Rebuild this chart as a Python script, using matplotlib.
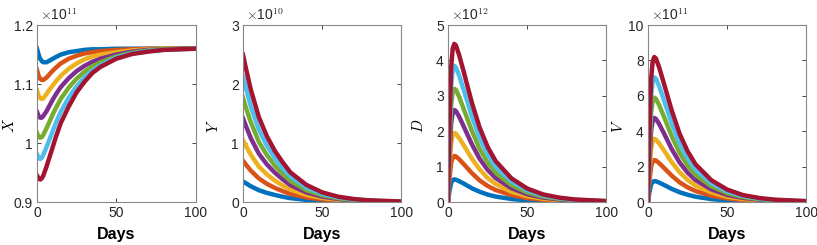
import numpy as np
import matplotlib
matplotlib.use("Agg")
import matplotlib.pyplot as plt

plt.rcParams['font.family'] = ['Liberation Sans Narrow', 'Liberation Sans', 'DejaVu Sans']
plt.rcParams['mathtext.fontset'] = 'cm'

# MATLAB default line colours
colors = ['#0072BD', '#D95319', '#EDB120', '#7E2F8E', '#77AC30', '#4DBEEE', '#A2142F']

# X (x1e11)
days_x = [0, 1, 2, 3, 4, 6, 8, 10, 12, 15, 20, 25, 30, 35, 40, 50, 60, 70, 80, 90, 100]
X = [
    [1.160, 1.150, 1.143, 1.139, 1.137, 1.137, 1.140, 1.143, 1.146, 1.150, 1.154, 1.156, 1.158, 1.159, 1.159, 1.160, 1.160, 1.160, 1.160, 1.160, 1.160],
    [1.124, 1.114, 1.109, 1.107, 1.107, 1.111, 1.117, 1.123, 1.128, 1.135, 1.143, 1.148, 1.152, 1.154, 1.156, 1.158, 1.159, 1.160, 1.160, 1.160, 1.160],
    [1.089, 1.080, 1.076, 1.075, 1.076, 1.083, 1.091, 1.098, 1.105, 1.114, 1.126, 1.135, 1.142, 1.147, 1.150, 1.154, 1.157, 1.159, 1.160, 1.160, 1.160],
    [1.053, 1.046, 1.043, 1.043, 1.046, 1.054, 1.064, 1.074, 1.083, 1.095, 1.110, 1.122, 1.131, 1.138, 1.143, 1.150, 1.155, 1.158, 1.159, 1.160, 1.160],
    [1.017, 1.011, 1.009, 1.010, 1.014, 1.025, 1.037, 1.049, 1.060, 1.075, 1.094, 1.109, 1.121, 1.130, 1.137, 1.147, 1.153, 1.157, 1.159, 1.160, 1.160],
    [0.981, 0.975, 0.973, 0.975, 0.980, 0.993, 1.007, 1.021, 1.035, 1.053, 1.077, 1.096, 1.111, 1.123, 1.132, 1.145, 1.152, 1.156, 1.158, 1.159, 1.160],
    [0.945, 0.940, 0.938, 0.940, 0.945, 0.960, 0.977, 0.994, 1.011, 1.034, 1.062, 1.086, 1.104, 1.119, 1.129, 1.143, 1.151, 1.155, 1.158, 1.159, 1.160],
]

# Y (x1e10)
days_y = [0, 2, 5, 10, 15, 20, 25, 30, 40, 50, 60, 70, 80, 100]
Y = [
    [0.35, 0.315, 0.266, 0.20, 0.155, 0.12, 0.09, 0.065, 0.035, 0.018, 0.009, 0.005, 0.003, 0.001],
    [0.70, 0.63, 0.53, 0.40, 0.31, 0.24, 0.185, 0.137, 0.077, 0.043, 0.024, 0.013, 0.007, 0.002],
    [1.05, 0.945, 0.80, 0.60, 0.47, 0.365, 0.28, 0.21, 0.12, 0.068, 0.038, 0.021, 0.012, 0.003],
    [1.42, 1.28, 1.08, 0.82, 0.64, 0.50, 0.385, 0.285, 0.163, 0.092, 0.051, 0.028, 0.016, 0.004],
    [1.77, 1.59, 1.35, 1.02, 0.80, 0.62, 0.48, 0.355, 0.20, 0.115, 0.064, 0.035, 0.019, 0.005],
    [2.13, 1.92, 1.62, 1.23, 0.96, 0.75, 0.575, 0.43, 0.245, 0.138, 0.077, 0.043, 0.023, 0.006],
    [2.50, 2.25, 1.90, 1.44, 1.12, 0.87, 0.675, 0.50, 0.29, 0.163, 0.09, 0.05, 0.028, 0.008],
]

# D (x1e12) and V (x1e11)
days_dv = [0, 1, 2, 3, 4, 5, 7, 10, 15, 20, 25, 30, 40, 50, 60, 70, 80, 100]
D = [
    [0, 0.32, 0.54, 0.62, 0.64, 0.63, 0.59, 0.52, 0.39, 0.29, 0.21, 0.155, 0.085, 0.047, 0.026, 0.015, 0.008, 0.003],
    [0, 0.65, 1.10, 1.26, 1.30, 1.29, 1.21, 1.07, 0.82, 0.61, 0.455, 0.34, 0.195, 0.11, 0.062, 0.036, 0.021, 0.008],
    [0, 0.98, 1.66, 1.89, 1.95, 1.93, 1.81, 1.60, 1.23, 0.92, 0.68, 0.51, 0.29, 0.166, 0.094, 0.055, 0.031, 0.012],
    [0, 1.30, 2.21, 2.52, 2.60, 2.57, 2.42, 2.13, 1.64, 1.22, 0.91, 0.68, 0.39, 0.22, 0.125, 0.073, 0.042, 0.016],
    [0, 1.60, 2.72, 3.10, 3.20, 3.17, 2.98, 2.62, 2.02, 1.50, 1.12, 0.83, 0.48, 0.27, 0.154, 0.09, 0.051, 0.019],
    [0, 1.93, 3.27, 3.73, 3.85, 3.81, 3.58, 3.16, 2.43, 1.81, 1.35, 1.00, 0.58, 0.33, 0.185, 0.108, 0.062, 0.023],
    [0, 2.24, 3.80, 4.34, 4.47, 4.43, 4.16, 3.67, 2.82, 2.10, 1.56, 1.16, 0.67, 0.38, 0.215, 0.125, 0.072, 0.027],
]
V = [
    [0, 0.59, 1.00, 1.14, 1.18, 1.17, 1.10, 0.97, 0.74, 0.55, 0.41, 0.30, 0.165, 0.09, 0.05, 0.028, 0.016, 0.006],
    [0, 1.19, 2.01, 2.30, 2.37, 2.35, 2.20, 1.94, 1.49, 1.11, 0.83, 0.62, 0.355, 0.20, 0.114, 0.066, 0.038, 0.014],
    [0, 1.79, 3.03, 3.46, 3.57, 3.53, 3.32, 2.93, 2.25, 1.68, 1.25, 0.93, 0.54, 0.30, 0.17, 0.10, 0.057, 0.021],
    [0, 2.38, 4.04, 4.61, 4.75, 4.70, 4.42, 3.90, 2.99, 2.23, 1.66, 1.24, 0.71, 0.40, 0.23, 0.133, 0.076, 0.029],
    [0, 2.95, 5.02, 5.72, 5.90, 5.84, 5.49, 4.84, 3.72, 2.77, 2.07, 1.53, 0.89, 0.50, 0.28, 0.165, 0.094, 0.035],
    [0, 3.53, 5.99, 6.84, 7.05, 6.98, 6.56, 5.78, 4.44, 3.31, 2.47, 1.83, 1.06, 0.60, 0.34, 0.197, 0.113, 0.042],
    [0, 4.10, 6.97, 7.95, 8.20, 8.12, 7.63, 6.72, 5.17, 3.85, 2.87, 2.13, 1.23, 0.70, 0.39, 0.23, 0.131, 0.049],
]

panels = [
    (days_x, X, '$X$', (0.9, 1.2), [0.9, 1, 1.1, 1.2], ['0.9', '1', '1.1', '1.2'], 11),
    (days_y, Y, '$Y$', (0, 3), [0, 1, 2, 3], ['0', '1', '2', '3'], 10),
    (days_dv, D, '$D$', (0, 5), [0, 1, 2, 3, 4, 5], ['0', '1', '2', '3', '4', '5'], 12),
    (days_dv, V, '$V$', (0, 10), [0, 2, 4, 6, 8, 10], ['0', '2', '4', '6', '8', '10'], 11),
]

lefts = [0.0453, 0.2974, 0.5483, 0.7931]
fig = plt.figure(figsize=(8.17, 2.45), dpi=100)

for i, (left, (days, series, ylab, ylim, yt, ytl, expo)) in enumerate(zip(lefts, panels)):
    ax = fig.add_axes([left, 0.1755, 0.1940, 0.722])
    for vals, c in zip(series, colors):
        ax.plot(days, vals, color=c, lw=3.2, solid_joinstyle='round')
    ax.set_xlim(0, 100)
    ax.set_ylim(*ylim)
    ax.set_xticks([0, 50, 100])
    ax.set_yticks(yt)
    ax.set_yticklabels(ytl)
    ax.tick_params(direction='in', top=True, right=True, length=3, width=0.6,
                   labelsize=10, colors='#262626', pad=3)
    for s in ax.spines.values():
        s.set_color('#888888')
        s.set_linewidth(0.8)
    ax.set_xlabel('Days', fontsize=11.5, fontweight='bold', labelpad=5)
    ax.set_ylabel(ylab, fontsize=11, labelpad=1)
    if i == 0:
        ax.yaxis.set_label_coords(-0.128, 0.43)
    else:
        ax.yaxis.set_label_coords(-0.14, 0.43)
    ax.text(0.02, 1.01, r'$\times$10$^{%d}$' % expo, transform=ax.transAxes,
            fontsize=10, ha='left', va='bottom', color='#262626')

fig.savefig('out.png', dpi=100)
